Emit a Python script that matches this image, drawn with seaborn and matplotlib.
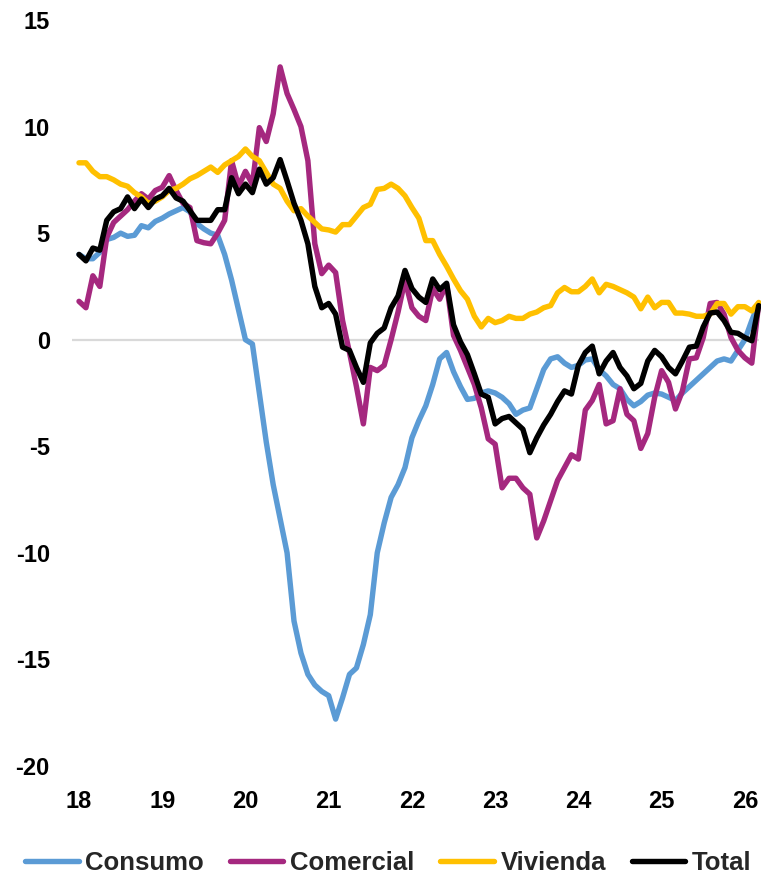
import numpy as np
import pandas as pd
import matplotlib
matplotlib.use("Agg")
import matplotlib.pyplot as plt
import seaborn as sns

# Annual growth of credit portfolio by segment, monthly Jan-2018 .. Mar-2026 (%)
consumo = [4.0, 3.8, 3.8, 4.1, 4.7, 4.8, 5.0, 4.85, 4.9, 5.35, 5.25, 5.55,
           5.7, 5.9, 6.05, 6.2, 6.0, 5.45, 5.2, 5.0, 4.9, 4.0, 2.8, 1.4,
           0.0, -0.2, -2.5, -4.8, -6.8, -8.4, -10.0, -13.2, -14.7, -15.7, -16.2, -16.5,
           -16.7, -17.8, -16.8, -15.7, -15.4, -14.3, -12.9, -10.0, -8.6, -7.4, -6.8, -6.0,
           -4.6, -3.8, -3.1, -2.1, -0.9, -0.6, -1.5, -2.2, -2.8, -2.75, -2.5, -2.4,
           -2.5, -2.7, -3.0, -3.5, -3.3, -3.2, -2.3, -1.4, -0.9, -0.8, -1.1, -1.3,
           -1.2, -0.95, -0.9, -1.4, -1.7, -2.1, -2.3, -2.8, -3.1, -2.9, -2.6, -2.5,
           -2.55, -2.7, -2.85, -2.5, -2.2, -1.9, -1.6, -1.3, -1.0, -0.9, -1.0, -0.5,
           0.0, 0.9, 1.7]
comercial = [1.8, 1.5, 3.0, 2.5, 4.8, 5.5, 5.8, 6.1, 6.5, 6.85, 6.6, 7.0,
             7.15, 7.7, 7.0, 6.4, 6.2, 4.65, 4.55, 4.5, 5.0, 5.6, 8.4, 7.2,
             7.9, 7.3, 9.95, 9.3, 10.6, 12.8, 11.55, 10.8, 10.0, 8.4, 4.5, 3.1,
             3.5, 3.15, 0.9, -0.6, -2.2, -3.95, -1.3, -1.45, -1.2, 0.0, 1.3, 2.8,
             1.5, 1.1, 0.9, 2.4, 1.9, 2.6, 0.2, -0.5, -1.3, -2.1, -3.2, -4.65,
             -4.9, -6.95, -6.5, -6.5, -6.95, -7.25, -9.3, -8.5, -7.55, -6.6, -6.0, -5.4,
             -5.6, -3.3, -2.85, -2.1, -3.95, -3.8, -2.3, -3.5, -3.8, -5.1, -4.4, -2.7,
             -1.45, -2.0, -3.25, -2.4, -0.9, -0.85, 0.1, 1.7, 1.75, 1.2, 0.1, -0.5,
             -0.85, -1.1, 1.7]
vivienda = [8.3, 8.3, 7.9, 7.65, 7.65, 7.5, 7.3, 7.2, 6.9, 6.7, 6.4, 6.5,
            6.7, 7.0, 7.1, 7.3, 7.55, 7.7, 7.9, 8.1, 7.85, 8.2, 8.4, 8.6,
            8.95, 8.6, 8.4, 7.85, 7.3, 7.1, 6.5, 6.05, 6.15, 5.8, 5.5, 5.2,
            5.15, 5.05, 5.4, 5.4, 5.8, 6.2, 6.35, 7.05, 7.1, 7.3, 7.1, 6.75,
            6.2, 5.7, 4.65, 4.65, 4.0, 3.45, 2.85, 2.3, 1.9, 1.1, 0.6, 1.0,
            0.8, 0.9, 1.1, 1.0, 1.0, 1.2, 1.3, 1.5, 1.6, 2.2, 2.45, 2.25,
            2.25, 2.5, 2.85, 2.2, 2.6, 2.5, 2.35, 2.2, 2.0, 1.45, 2.0, 1.5,
            1.75, 1.75, 1.25, 1.25, 1.2, 1.1, 1.1, 1.2, 1.7, 1.7, 1.2, 1.55,
            1.55, 1.35, 1.75]
total = [4.0, 3.7, 4.3, 4.2, 5.6, 6.0, 6.15, 6.7, 6.15, 6.6, 6.2, 6.6,
         6.75, 7.1, 6.65, 6.5, 6.05, 5.6, 5.6, 5.6, 6.1, 6.1, 7.6, 6.85,
         7.3, 6.9, 8.0, 7.3, 7.6, 8.45, 7.45, 6.4, 5.6, 4.5, 2.5, 1.5,
         1.7, 1.2, -0.35, -0.5, -1.3, -2.0, -0.15, 0.3, 0.55, 1.5, 2.05, 3.25,
         2.4, 2.0, 1.75, 2.85, 2.35, 2.65, 0.7, -0.1, -0.7, -1.6, -2.55, -2.7,
         -3.95, -3.7, -3.6, -3.9, -4.2, -5.3, -4.6, -4.0, -3.5, -2.9, -2.4, -2.55,
         -1.2, -0.6, -0.3, -1.6, -1.0, -0.6, -1.3, -1.7, -2.3, -2.05, -1.0, -0.5,
         -0.8, -1.3, -1.6, -1.0, -0.35, -0.3, 0.6, 1.25, 1.3, 0.9, 0.35, 0.3,
         0.1, -0.05, 1.6]

series_names = ["Consumo", "Comercial", "Vivienda", "Total"]
series_colors = ["#5B9BD5", "#A5287F", "#FFC000", "#000000"]
year_ticks = [18, 19, 20, 21, 22, 23, 24, 25, 26]
value_ticks = [-20, -15, -10, -5, 0, 5, 10, 15]

t = 18 + np.arange(len(total)) / 12.0
df = pd.concat([
    pd.DataFrame({"t": t, "valor": vals, "serie": name})
    for name, vals in zip(series_names, [consumo, comercial, vivienda, total])
])

sns.set_theme(style="white")
plt.rcParams["font.family"] = ["Liberation Sans", "DejaVu Sans"]
plt.rcParams["font.weight"] = "bold"

fig = plt.figure(figsize=(7.61, 8.80), dpi=100)
ax = fig.add_axes([72 / 761, 1 - 766 / 880, (759 - 72) / 761, (766 - 20) / 880])

ax.axhline(0, color="#D9D9D9", lw=1.6, zorder=1)
sns.lineplot(data=df, x="t", y="valor", hue="serie", hue_order=series_names,
             palette=series_colors, linewidth=3.9, ax=ax, legend=False,
             zorder=3, clip_on=False)

ax.set_xlim(17.916, 26.17)
ax.set_ylim(-20, 15)
ax.set_xticks(year_ticks)
ax.set_xticklabels([str(y) for y in year_ticks])
ax.set_yticks(value_ticks)
ax.set_yticklabels([str(v) for v in value_ticks])
ax.set_xlabel("")
ax.set_ylabel("")
for s in ax.spines.values():
    s.set_visible(False)
ax.tick_params(axis="both", length=0, labelsize=17, colors="black")
ax.tick_params(axis="y", pad=16)
ax.tick_params(axis="x", pad=17)
for lab in ax.get_xticklabels() + ax.get_yticklabels():
    lab.set_fontweight("bold")

# Legend along the bottom
handles = [plt.Line2D([0], [0], color=c, lw=3.9, solid_capstyle="round")
           for c in series_colors]
fig.legend(handles, series_names, loc="center", bbox_to_anchor=(0.51, 1 - 863 / 880),
           ncol=4, frameon=False, handlelength=2.1, handletextpad=0.25,
           columnspacing=1.0, borderpad=0.2,
           prop={"family": ["Liberation Sans"], "weight": "bold", "size": 18.5})

fig.savefig("out.png", dpi=100)
